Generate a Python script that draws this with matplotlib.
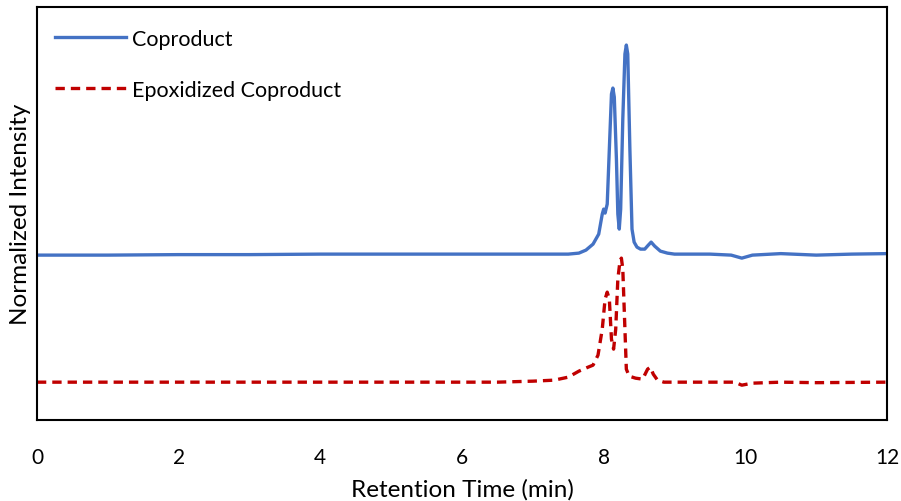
import numpy as np
import matplotlib
matplotlib.use("Agg")
import matplotlib.pyplot as plt

plt.rcParams['font.family'] = ['Lato', 'DejaVu Sans']

# (retention time in min, intensity in arbitrary units)
t_coprod = [0.0, 1.0, 2.0, 3.0, 4.0, 5.0, 6.0, 7.0, 7.5, 7.65, 7.75, 7.85, 7.93, 7.98,
            8.00, 8.02, 8.05, 8.08, 8.11, 8.13, 8.15, 8.18, 8.20, 8.22, 8.24, 8.27,
            8.30, 8.32, 8.34, 8.37, 8.40, 8.43, 8.47, 8.52, 8.58, 8.63, 8.67, 8.72, 8.80,
            8.9, 9.0, 9.5, 9.8, 9.95, 10.1, 10.5, 11.0, 11.5, 12.0]
i_coprod = [165, 165, 165.5, 165.5, 166, 166, 166, 166, 166, 167, 170, 176, 186, 206,
            211, 207, 216, 271, 326, 332, 323, 261, 206, 191, 211, 301,
            366, 375, 366, 271, 191, 178, 173, 171, 171, 175, 178, 174, 169,
            167, 166, 166, 165, 162, 165, 166.5, 165, 166, 166.5]

t_epox = [0.0, 5.0, 6.5, 7.0, 7.3, 7.5, 7.65, 7.78, 7.85, 7.92, 7.98, 8.02, 8.05, 8.08,
          8.11, 8.14, 8.17, 8.20, 8.23, 8.25, 8.27, 8.30, 8.32, 8.36, 8.45, 8.55,
          8.62, 8.66, 8.70, 8.76, 8.85, 9.5, 9.85, 9.95, 10.1, 10.5, 11.0, 12.0]
i_epox = [38, 38, 38, 39, 40, 43, 49, 53, 55, 65, 91, 121, 128, 121,
          81, 71, 91, 141, 159, 162, 151, 91, 51, 44, 42, 41,
          51, 53, 46, 40, 38, 38, 38, 35, 37, 38, 37.5, 38]

fig = plt.figure(figsize=(9.01, 5.02), dpi=100)
ax = fig.add_axes([0.041, 0.161, 0.9435, 0.823])

ax.plot(t_coprod, i_coprod, color='#4472C4', lw=2.4, label='Coproduct')
ax.plot(t_epox, i_epox, color='#C00000', lw=2.4, ls=(0, (2.8, 1.8)), label='Epoxidized Coproduct')

ax.set_xlim(0, 12)
ax.set_ylim(0, 413)
ax.set_xticks([0, 2, 4, 6, 8, 10, 12])
ax.set_yticks([])
ax.tick_params(axis='x', length=0, pad=19, labelsize=15)
for s in ax.spines.values():
    s.set_linewidth(1.5)
ax.set_xlabel('Retention Time (min)', fontsize=17.5, labelpad=8)
ax.set_ylabel('Normalized Intensity', fontsize=17.5, labelpad=4)

ax.legend(loc='upper left', bbox_to_anchor=(0, 0.992), frameon=False, fontsize=15.5,
          handlelength=3.3, labelspacing=1.45, handletextpad=0.25, borderaxespad=0.45)

fig.savefig('out.png', dpi=100)
